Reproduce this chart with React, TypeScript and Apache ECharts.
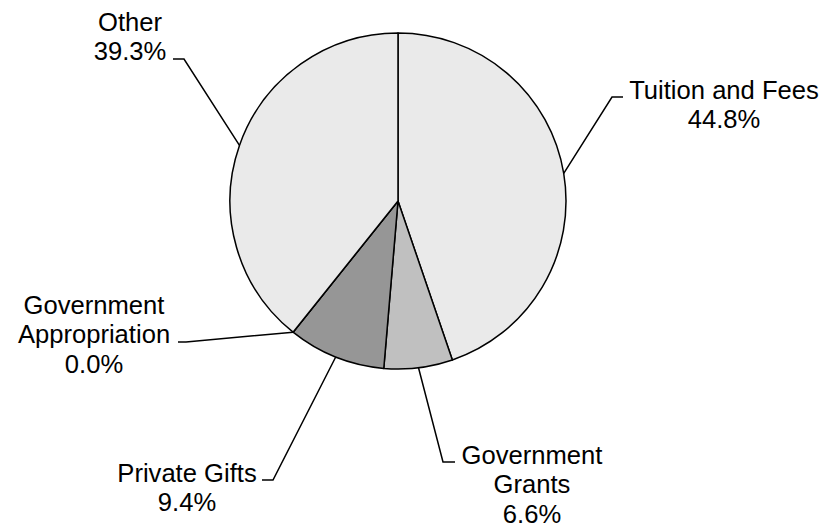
import React, { useEffect, useRef } from "react";
import * as echarts from "echarts";

const categories = [
  "Tuition and Fees",
  "Government\nGrants",
  "Private Gifts",
  "Government\nAppropriation",
  "Other",
];
const values = [44.8, 6.6, 9.4, 0.0, 39.3];
const colors = ["#eaeaea", "#c0c0c0", "#969696", "#969696", "#eaeaea"];

// label block placement (center x, top y) and leader elbow/end points
const labelPos = [
  { x: 724, y: 75, elbow: [612, 97], end: [623, 97] },
  { x: 532, y: 440, elbow: [443, 462], end: [455, 462] },
  { x: 187, y: 458, elbow: [273, 480], end: [262, 480] },
  { x: 94, y: 290, elbow: [186, 342], end: [178, 342] },
  { x: 130, y: 7, elbow: [184, 59], end: [173, 59] },
];

const CX = 398;
const CY = 201;
const R = 168;

export default function App() {
  const ref = useRef<HTMLDivElement>(null);
  useEffect(() => {
    document.body.style.margin = "0";
    const chart = echarts.init(ref.current!, null, { renderer: "svg" });
    const total = values.reduce((a, b) => a + b, 0);
    const option = {
      animation: false,
      backgroundColor: "#ffffff",
      series: [
        {
          type: "pie",
          center: [CX, CY],
          radius: R,
          startAngle: 90,
          clockwise: true,
          avoidLabelOverlap: false,
          data: categories.map((name, i) => ({
            name,
            value: values[i],
            itemStyle: { color: colors[i] },
          })),
          itemStyle: { borderColor: "#000000", borderWidth: 1.5 },
          emphasis: { disabled: true },
          label: {
            show: true,
            position: "outside",
            formatter: (p: any) => `${p.name}\n${values[p.dataIndex].toFixed(1)}%`,
            fontFamily: "Arial, 'Liberation Sans', sans-serif",
            fontSize: 25.6,
            lineHeight: 29.5,
            color: "#000000",
            align: "center",
          },
          labelLine: {
            show: true,
            length: 20,
            length2: 10,
            lineStyle: { color: "#000000", width: 1.5 },
          },
          labelLayout: (params: any) => {
            const i = params.dataIndex;
            const lp = labelPos[i];
            let anchor: number[];
            if (params.labelLinePoints && params.labelLinePoints[0]) {
              anchor = params.labelLinePoints[0];
            } else {
              let cum = 0;
              for (let k = 0; k < i; k++) cum += values[k];
              const a = ((cum + values[i] / 2) / total) * Math.PI * 2;
              anchor = [CX + R * Math.sin(a), CY - R * Math.cos(a)];
            }
            return {
              x: lp.x,
              y: lp.y,
              align: "center",
              verticalAlign: "top",
              labelLinePoints: [anchor, lp.elbow, lp.end],
            };
          },
        },
      ],
    };
    chart.setOption(option as any);
    return () => chart.dispose();
  }, []);
  return <div ref={ref} style={{ width: 829, height: 529 }} />;
}
